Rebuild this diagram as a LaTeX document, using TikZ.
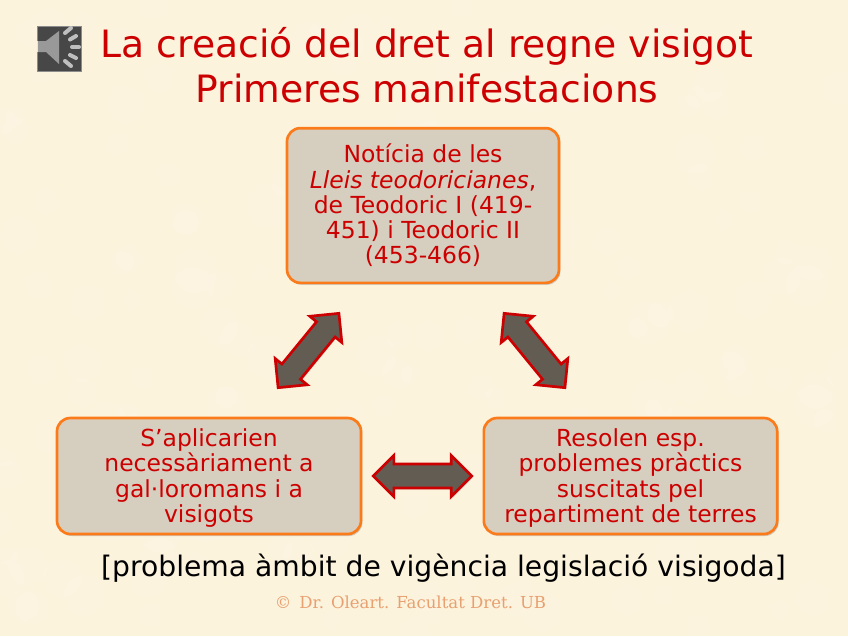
\documentclass[tikz,border=0pt]{standalone}
\usepackage{fontspec}
\setmainfont{DejaVu Sans}
\newfontfamily\footerfont{DejaVu Serif}
\usetikzlibrary{shadows,shapes.arrows}
\definecolor{slideBg}{HTML}{FCF3DD}
\definecolor{titleRed}{HTML}{CC0000}
\definecolor{boxEdge}{HTML}{FB7A1A}
\definecolor{boxFill}{HTML}{D6CFBF}
\definecolor{arrowFill}{HTML}{625C52}
\definecolor{footerOrange}{HTML}{E8A070}

\begin{document}
\begin{tikzpicture}[
        x=0.75pt, y=-0.75pt,
        heading/.style={font=\fontsize{28.25}{33.5}\selectfont, text=titleRed, align=center, inner sep=0pt},
        boxNode/.style={draw=boxEdge, line width=2pt, rounded corners=10pt, align=center, fill=boxFill, text=titleRed,
          inner sep=0pt, font=\fontsize{17.6}{18.9}\selectfont,
          drop shadow={shadow xshift=1pt, shadow yshift=-1.5pt, opacity=0.35}},
        linkArrow/.style={shape=double arrow, draw=titleRed, line width=2pt, fill=arrowFill, inner xsep=0pt, inner ysep=8pt,
          minimum height=72pt, minimum width=31pt, double arrow head extend=6.5pt, double arrow tip angle=90,
          drop shadow={shadow xshift=1pt, shadow yshift=-1pt, opacity=0.3}}
      ]
      \useasboundingbox (0,0) rectangle (848,636);
      \fill[slideBg] (0,0) rectangle (848,636);
      % mottled paper
      \pgfmathsetseed{7}
      \foreach \i in {1,...,170}
        \fill[white, opacity=0.07] ({rnd*848},{rnd*636}) circle ({8+rnd*14});

      % speaker icon
      \fill[black!72, draw=black!45, line width=0.5pt] (37,26) rectangle (81.5,71);
      \fill[black!40] (37,41) -- (46,41) -- (59,31) -- (59,64) -- (46,52) -- (37,52) -- cycle;
      \fill[black!10] (36.5,41) rectangle (38,52);
      \foreach \x/\y/\a/\b in {65/33/71/28, 70/39.5/76/36, 72/47/79/47, 70/55/76/58, 65/61/71/66}
        \draw[black!25, line width=3pt, line cap=round] (\x,\y) -- (\a,\b);

      \node[heading] (title) at (427,65.5) {La creació del dret al regne visigot\\Primeres manifestacions};

      \node[boxNode, minimum width=204pt, minimum height=116pt] (noticia) at (423,205.5) {Notícia de les\\\textit{Lleis teodoricianes},\\ de Teodoric I (419-\\451) i Teodoric II\\(453-466)};
      \node[boxNode, minimum width=228pt, minimum height=87pt] (aplicar) at (209,476) {\rule{0pt}{16.5pt}S’aplicarien\\necessàriament a\\gal·loromans i a\\visigots};
      \node[boxNode, minimum width=220pt, minimum height=87pt] (resolen) at (630.5,476) {\rule{0pt}{16.5pt}Resolen esp.\\problemes pràctics\\suscitats pel\\repartiment de terres};

      \node[linkArrow, rotate=50.7] (arrowLeft) at (308.5,350.5) {};
      \node[linkArrow, rotate=-50.7] (arrowRight) at (534.5,350.5) {};
      \node[linkArrow, minimum height=74pt] (arrowBottom) at (422.5,476) {};

      \node[font=\fontsize{21.15}{24}\selectfont, inner sep=0pt] (ambit) at (443.5,568) {[problema àmbit de vigència legislació visigoda]};
      \node[font=\footerfont\fontsize{12.4}{16}\selectfont, text=footerOrange, inner sep=0pt] (footer) at (410.5,602) {©\, Dr. Oleart. Facultat Dret. UB};
    \end{tikzpicture}
\end{document}
